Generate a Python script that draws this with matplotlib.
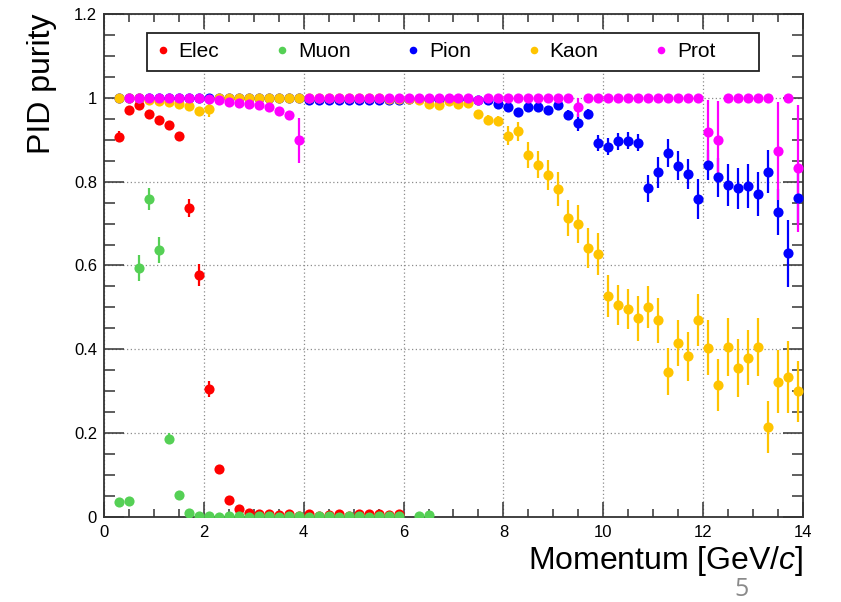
import numpy as np
import matplotlib
matplotlib.use("Agg")
import matplotlib.pyplot as plt
from matplotlib.ticker import MultipleLocator, FuncFormatter
from matplotlib.patches import Rectangle

plt.rcParams["font.family"] = "Liberation Sans"
plt.rcParams["mathtext.fontset"] = "custom"
plt.rcParams["mathtext.rm"] = "Liberation Sans"
plt.rcParams["mathtext.it"] = "Liberation Sans:italic"

nan = np.nan

# bin centres, 0.2 GeV/c wide bins from 0.2 to 14
momentum = np.round(np.arange(0.3, 14.0, 0.2), 1)

elec = [0.907, 0.972, 0.982, 0.961, 0.946, 0.936, 0.908, 0.737, 0.577, 0.305,
        0.115, 0.041, 0.018, 0.010, 0.007, 0.008, 0.004, 0.008, 0.003, 0.006,
        0.003, 0.005, 0.006, 0.003, 0.007, 0.006, 0.006, 0.005, 0.006] + [nan] * 40
elec_err = [0.013, 0.006, 0.005, 0.007, 0.008, 0.008, 0.010, 0.022, 0.027, 0.019,
            0.008, 0.004, 0.003, 0.002, 0.002, 0.002, 0.002, 0.002, 0.002, 0.002,
            0.002, 0.002, 0.002, 0.002, 0.002, 0.002, 0.002, 0.002, 0.002] + [nan] * 40

muon = [0.036, 0.038, 0.594, 0.759, 0.637, 0.187, 0.052, 0.010, 0.002, 0.002,
        0.001, 0.002, 0.002, 0.001, 0.002, 0.002, 0.001, 0.002, 0.002, 0.001,
        0.002, 0.002, 0.001, 0.002, 0.002, 0.001, 0.002, 0.002, 0.002, nan,
        0.003, 0.005] + [nan] * 37
muon_err = [0.006, 0.006, 0.030, 0.027, 0.030, 0.014, 0.008, 0.004, 0.002, 0.002,
            0.002, 0.002, 0.002, 0.002, 0.002, 0.002, 0.002, 0.002, 0.002, 0.002,
            0.002, 0.002, 0.002, 0.002, 0.002, 0.002, 0.002, 0.002, 0.002, nan,
            0.003, 0.003] + [nan] * 37

pion = [0.999, 0.999, 0.999, 0.999, 0.999, 0.999, 0.999, 0.999, 0.999, 1.000,
        0.999, 0.999, 0.999, 0.999, 0.999, 0.999, 0.999, 0.999, 0.999, 0.995,
        0.995, 0.994, 0.995, 0.994, 0.995, 0.994, 0.995, 0.994, 0.996, 0.998,
        0.997, 0.997, 0.998, 0.998, 0.997, 0.997, 0.996, 0.996, 0.986, 0.978,
        0.966, 0.978, 0.977, 0.970, 0.984, 0.960, 0.941, 0.961, 0.892, 0.883,
        0.896, 0.898, 0.893, 0.784, 0.822, 0.868, 0.838, 0.819, 0.759, 0.840,
        0.810, 0.792, 0.784, 0.790, 0.770, 0.824, 0.727, 0.629, 0.762]
pion_err = [0.002] * 36 + [
            0.003, 0.004, 0.006, 0.008, 0.010, 0.008, 0.008, 0.010, 0.008, 0.012,
            0.020, 0.012, 0.020, 0.020, 0.020, 0.020, 0.020, 0.033, 0.036, 0.033,
            0.035, 0.036, 0.047, 0.036, 0.047, 0.051, 0.049, 0.052, 0.052, 0.052,
            0.055, 0.080, 0.060]

kaon = [1.000, 1.000, 1.000, 0.996, 0.993, 0.990, 0.985, 0.980, 0.969, 0.974,
        1.000, 1.000, 1.000, 1.000, 1.000, 1.000, 1.000, 1.000, 1.000, 1.000,
        1.000, 1.000, 1.000, 1.000, 1.000, 0.999, 0.999, 0.997, 0.997, 0.998,
        0.995, 0.985, 0.984, 0.992, 0.985, 0.988, 0.961, 0.947, 0.945, 0.910,
        0.920, 0.864, 0.840, 0.816, 0.782, 0.713, 0.699, 0.641, 0.627, 0.527,
        0.506, 0.496, 0.474, 0.500, 0.469, 0.347, 0.415, 0.383, 0.470, 0.404,
        0.315, 0.406, 0.355, 0.380, 0.406, 0.214, 0.323, 0.333, 0.300]
kaon_err = [0.002, 0.002, 0.002, 0.002, 0.002, 0.003, 0.003, 0.004, 0.005, 0.019,
            0.002, 0.002, 0.002, 0.002, 0.002, 0.002, 0.002, 0.002, 0.002, 0.002,
            0.002, 0.002, 0.002, 0.002, 0.002, 0.002, 0.002, 0.002, 0.002, 0.002,
            0.003, 0.004, 0.004, 0.004, 0.005, 0.005, 0.010, 0.012, 0.012, 0.022,
            0.022, 0.031, 0.032, 0.035, 0.040, 0.043, 0.045, 0.048, 0.050, 0.050,
            0.047, 0.048, 0.054, 0.050, 0.054, 0.056, 0.054, 0.058, 0.061, 0.065,
            0.063, 0.069, 0.069, 0.065, 0.069, 0.062, 0.076, 0.086, 0.073]

prot = [nan, 1.000, 1.000, 1.000, 1.000, 1.000, 1.000, 1.000, 1.000, 0.998,
        0.995, 0.990, 0.988, 0.985, 0.982, 0.977, 0.969, 0.960, 0.899, 1.000,
        1.000, 1.000, 1.000, 1.000, 1.000, 1.000, 1.000, 1.000, 1.000, 1.000,
        1.000, 1.000, 1.000, 1.000, 1.000, 1.000, 0.996, 1.000, 1.000, 1.000,
        1.000, 1.000, 1.000, 1.000, 1.000, 1.000, 0.977, 1.000, 1.000, 1.000,
        1.000, 1.000, 1.000, 1.000, 1.000, 1.000, 1.000, 1.000, 1.000, 0.918,
        0.900, 1.000, 1.000, 1.000, 1.000, 1.000, 0.874, 1.000, 0.832]
prot_err = [nan, 0.001, 0.001, 0.001, 0.001, 0.001, 0.001, 0.001, 0.001, 0.002,
            0.003, 0.003, 0.003, 0.004, 0.004, 0.005, 0.006, 0.007, 0.054, 0.001,
            0.001, 0.001, 0.001, 0.001, 0.001, 0.001, 0.001, 0.001, 0.001, 0.001,
            0.001, 0.001, 0.001, 0.001, 0.001, 0.001, 0.003, 0.001, 0.001, 0.001,
            0.001, 0.001, 0.001, 0.001, 0.001, 0.001, 0.022, 0.001, 0.001, 0.001,
            0.001, 0.001, 0.001, 0.001, 0.001, 0.001, 0.001, 0.001, 0.001, 0.078,
            0.092, 0.001, 0.001, 0.001, 0.001, 0.001, 0.117, 0.001, 0.151]

names = ["Elec", "Muon", "Pion", "Kaon", "Prot"]
values = [elec, muon, pion, kaon, prot]
errors = [elec_err, muon_err, pion_err, kaon_err, prot_err]
colors = ["#ff0000", "#55d055", "#0000ff", "#ffc400", "#ff00ff"]

fig = plt.figure(figsize=(8.41, 6.02), dpi=100)
ax = fig.add_axes([104 / 841, 85 / 602, 699 / 841, 503 / 602])

# error bars underneath, markers on top
for val, err, col in zip(values, errors, colors):
    ax.errorbar(momentum, val, yerr=err, fmt="none", ecolor=col,
                elinewidth=1.6, capsize=0, zorder=2)
handles = []
for val, col in zip(values, colors):
    h, = ax.plot(momentum, val, "o", color=col, ms=7.3, mew=0, zorder=3)
    handles.append(h)

ax.set_xlim(0, 14)
ax.set_ylim(0, 1.2)
ax.xaxis.set_major_locator(MultipleLocator(2))
ax.xaxis.set_minor_locator(MultipleLocator(0.5))
ax.yaxis.set_major_locator(MultipleLocator(0.2))
ax.yaxis.set_minor_locator(MultipleLocator(0.05))
ax.yaxis.set_major_formatter(FuncFormatter(lambda v, pos: f"{v:g}"))
ax.xaxis.set_major_formatter(FuncFormatter(lambda v, pos: f"{v:g}"))

ax.grid(True, which="major", linestyle=(0, (1, 2)), color="#8c8c8c", lw=0.9)
ax.set_axisbelow(True)
ax.tick_params(which="both", direction="in", top=True, right=True,
               labelsize=12, width=1.1, color="#333333")
ax.tick_params(axis="x", which="major", length=11, pad=6)
ax.tick_params(axis="x", which="minor", length=5.5)
ax.tick_params(axis="y", which="major", length=14.5, pad=5)
ax.tick_params(axis="y", which="minor", length=8)
for sp in ax.spines.values():
    sp.set_linewidth(1.3)
    sp.set_color("#333333")

ax.set_xlabel(r"Momentum [GeV/$c$]", fontsize=23, loc="right")
ax.xaxis.set_label_coords(1.0, -0.054)
ax.set_ylabel("PID purity", fontsize=23, loc="top")
ax.yaxis.set_label_coords(-0.067, 1.0)

# legend box
ax.add_patch(Rectangle((0.0615, 0.887), 0.8755, 0.075, transform=ax.transAxes,
                       facecolor="white", edgecolor="#222222", lw=1.3, zorder=4))
leg = ax.legend(handles, names, ncol=5, loc="center left",
                bbox_to_anchor=(0.0725, 0.9245), frameon=False, fontsize=15,
                handlelength=0.8, handletextpad=0.35, columnspacing=2.62,
                markerscale=0.75, borderpad=0, borderaxespad=0)
leg.set_zorder(6)

fig.text(741 / 841, 0.0, "5", fontsize=18, color="#8a8a8a",
         family="Open Sans", ha="center", va="bottom")

fig.savefig("out.png", dpi=100)
